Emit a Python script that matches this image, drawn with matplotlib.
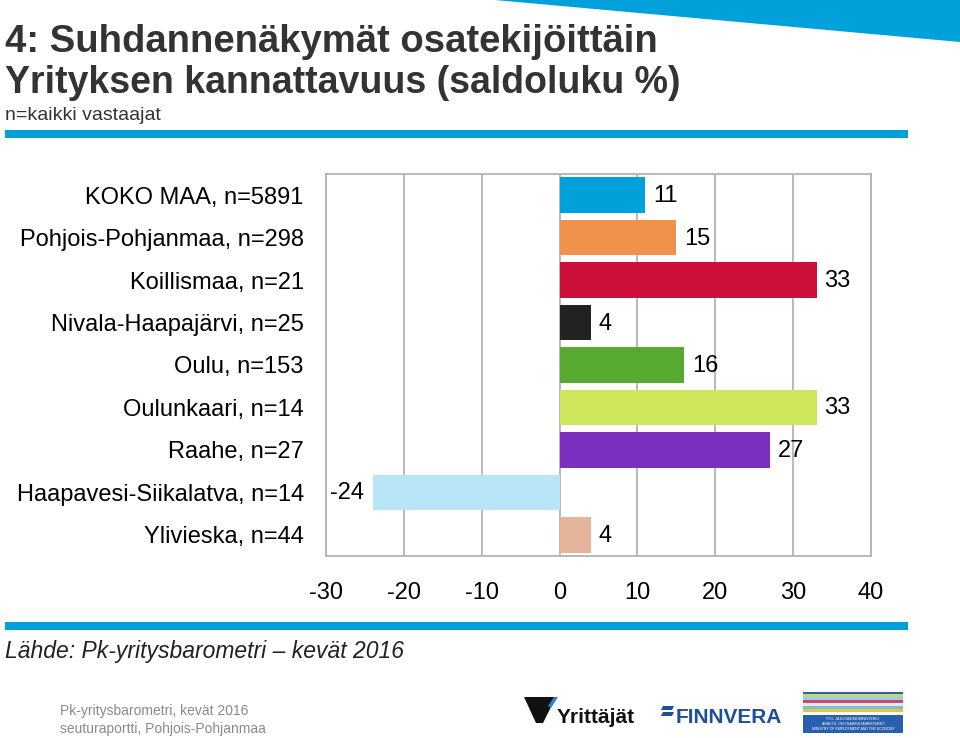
import matplotlib
matplotlib.use("Agg")
import matplotlib.pyplot as plt
from matplotlib import font_manager
from matplotlib.patches import Polygon, Rectangle
from matplotlib.transforms import offset_copy

categories = [
    "KOKO MAA, n=5891",
    "Pohjois-Pohjanmaa, n=298",
    "Koillismaa, n=21",
    "Nivala-Haapajärvi, n=25",
    "Oulu, n=153",
    "Oulunkaari, n=14",
    "Raahe, n=27",
    "Haapavesi-Siikalatva, n=14",
    "Ylivieska, n=44",
]
values = [11, 15, 33, 4, 16, 33, 27, -24, 4]
bar_colors = ["#00a0da", "#f0924b", "#cc0f3b", "#222222", "#57a92f",
              "#cee65b", "#7b2fbf", "#b9e6f7", "#e4b59b"]
xticks = [-30, -20, -10, 0, 10, 20, 30, 40]

names = {f.name for f in font_manager.fontManager.ttflist}
narrow = "Liberation Sans Narrow" if "Liberation Sans Narrow" in names else "Liberation Sans"
base = "Liberation Sans"

W, H = 960, 738
fig = plt.figure(figsize=(W / 100, H / 100), dpi=100)

def fx(x):
    return x / W

def fy(y):
    return 1 - y / H

# decorative shapes
fig.patches.append(Polygon([(fx(495), fy(0)), (fx(960), fy(0)), (fx(960), fy(42))],
                           closed=True, transform=fig.transFigure, color="#00a0da", lw=0))
fig.patches.append(Rectangle((fx(5), fy(138)), fx(903), 8 / H, transform=fig.transFigure,
                             color="#00a0da", lw=0))
fig.patches.append(Rectangle((fx(5), fy(630)), fx(903), 8 / H, transform=fig.transFigure,
                             color="#00a0da", lw=0))

# titles
fig.text(fx(5), fy(52), "4: Suhdannenäkymät osatekijöittäin", fontsize=27.5, fontweight="bold",
         family=narrow, color="#333333", va="baseline")
fig.text(fx(5), fy(93), "Yrityksen kannattavuus (saldoluku %)", fontsize=27, fontweight="bold",
         family=narrow, color="#333333", va="baseline")
fig.text(fx(5), fy(120), "n=kaikki vastaajat", fontsize=14, family=narrow, color="#333333",
         va="baseline")

# axes
left, right, top, bottom = 326, 871, 174, 556
ax = fig.add_axes([fx(left), fy(bottom), fx(right - left), (bottom - top) / H])
y = list(range(len(categories)))
ax.barh(y, values, height=0.84, color=bar_colors, zorder=3)
ax.set_xlim(-30, 40)
ax.set_ylim(len(categories) - 0.5, -0.5)
ax.set_xticks(xticks)
ax.set_xticklabels([str(t) for t in xticks], family=base, fontsize=17)
ax.set_yticks(y)
ax.set_yticklabels(categories, family=base, fontsize=17)
ax.tick_params(axis="both", length=0)
ax.tick_params(axis="x", pad=19)
ax.tick_params(axis="y", pad=16)
ax.grid(axis="x", color="#b3b3b3", lw=1.3, zorder=0)
for s in ax.spines.values():
    s.set_color("#b3b3b3")
    s.set_linewidth(1.3)

for yi, v in zip(y, values):
    if v >= 0:
        tr = offset_copy(ax.transData, fig=fig, x=8, y=-1, units="dots")
        ax.text(v, yi, str(v), transform=tr, ha="left", va="center", fontsize=17, family=base)
    else:
        tr = offset_copy(ax.transData, fig=fig, x=-9, y=-1, units="dots")
        ax.text(v, yi, str(v), transform=tr, ha="right", va="center", fontsize=17, family=base)

# footer
fig.text(fx(5), fy(658), "Lähde: Pk-yritysbarometri – kevät 2016", fontsize=16.5, style="italic",
         family=narrow, color="#222222", va="baseline")
fig.text(fx(60), fy(715), "Pk-yritysbarometri, kevät 2016", fontsize=10, family=narrow,
         color="#8a8a8a", va="baseline")
fig.text(fx(60), fy(733), "seuturaportti, Pohjois-Pohjanmaa", fontsize=10, family=narrow,
         color="#8a8a8a", va="baseline")

# logo: Yrittäjät
fig.patches.append(Polygon([(fx(524), fy(697)), (fx(556), fy(697)), (fx(543), fy(723)),
                            (fx(536), fy(723))], closed=True, transform=fig.transFigure,
                           color="#111111", lw=0))
fig.patches.append(Polygon([(fx(548), fy(706)), (fx(554), fy(697)), (fx(558), fy(697)),
                            (fx(551), fy(708))], closed=True, transform=fig.transFigure,
                           color="#2a7fd0", lw=0))
fig.text(fx(557), fy(723), "Yrittäjät", fontsize=15, fontweight="bold", family=base,
         color="#111111", va="baseline")
# logo: Finnvera
for dy in (0, 6):
    fig.patches.append(Polygon([(fx(661), fy(716 - dy)), (fx(672), fy(716 - dy)),
                                (fx(674), fy(712 - dy)), (fx(663), fy(712 - dy))],
                               closed=True, transform=fig.transFigure, color="#1d4f9c", lw=0))
fig.text(fx(676), fy(723), "FINNVERA", fontsize=15, fontweight="bold", family=narrow,
         color="#1d4f9c", va="baseline")
# logo: ministry
fig.patches.append(Rectangle((fx(803), fy(733)), fx(100), 41 / H, transform=fig.transFigure,
                             color="#2a5fae", lw=0))
stripe_cols = ["#c7d86a", "#9ecbe6", "#c44a7a", "#e9e9e9", "#79c0d6", "#e5c24c", "#ffffff"]
for i, c in enumerate(stripe_cols):
    fig.patches.append(Rectangle((fx(803), fy(694 + (i + 1) * 3)), fx(100), 3 / H,
                                 transform=fig.transFigure, color=c, lw=0))
fig.text(fx(853), fy(724), "TYÖ- JA ELINKEINOMINISTERIÖ\nARBETS- OCH NÄRINGSMINISTERIET\nMINISTRY OF EMPLOYMENT AND THE ECONOMY",
         fontsize=2.5, color="white", ha="center", va="center", family=base)

fig.savefig("out.png", dpi=100)
